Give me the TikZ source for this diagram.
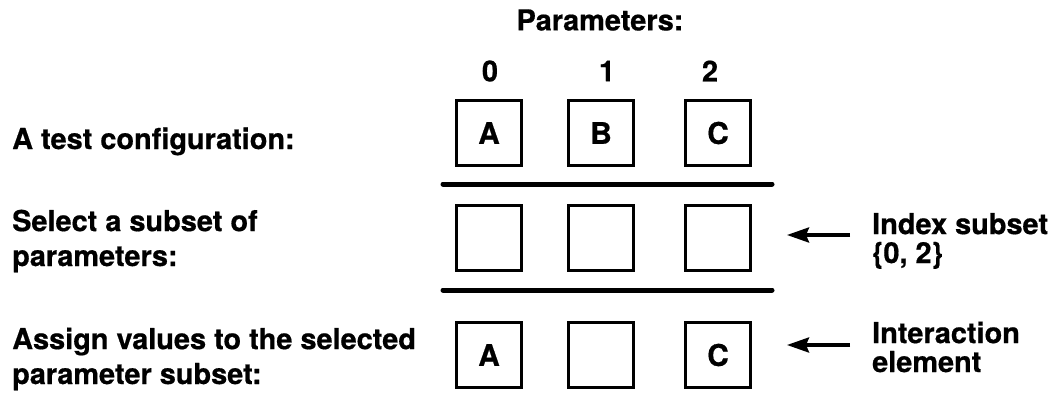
\documentclass[tikz,border=0pt]{standalone}
\usepackage{fontspec}
\setmainfont{TeX Gyre Heros}[BoldFeatures={FakeBold=0.6}]
\usetikzlibrary{arrows.meta}
\begin{document}
\begin{tikzpicture}[x=1bp,y=-1bp,
  every node/.style={font=\fontsize{29}{35}\selectfont\bfseries, inner sep=0pt},
  cell/.style={draw, line width=3.5bp, minimum width=65bp, minimum height=65bp,
    font=\fontsize{30}{35}\selectfont\bfseries},
  rule/.style={line width=5bp, line cap=round},
  pointer/.style={line width=3.5bp, -{Stealth[length=22bp,width=15bp,inset=3bp]}},
  lefttext/.style={anchor=base west, align=left},
  righttext/.style={anchor=base west, align=left, font=\fontsize{29}{29}\selectfont\bfseries}]
  \useasboundingbox (0,0) rectangle (1052,397);

  % column header
  \node (title) at (600,20) {Parameters:};
  \node (n0) at (490,71) {0};
  \node (n1) at (607,71) {1};
  \node (n2) at (710,71) {2};

  % row 1: full test configuration
  \node[cell] (a1) at (489,133) {A};
  \node[cell] (b1) at (601,133) {B};
  \node[cell] (c1) at (718,133) {C};

  % row 2: selected index subset
  \node[cell] (a2) at (489,238) {};
  \node[cell] (b2) at (601,238) {};
  \node[cell] (c2) at (718,238) {};

  % row 3: interaction element
  \node[cell] (a3) at (489,355) {A};
  \node[cell] (b3) at (601,355) {};
  \node[cell] (c3) at (718,355) {C};

  % separators
  \coordinate (r1l) at (443,184);
  \coordinate (r1r) at (772,184);
  \coordinate (r2l) at (443,290);
  \coordinate (r2r) at (772,290);
  \draw[rule] (r1l) -- (r1r);
  \draw[rule] (r2l) -- (r2r);

  % row descriptions (anchored at the baseline of the last line)
  \node[lefttext] (t1) at (12,149) {A test configuration:};
  \node[lefttext] (t2) at (12,266) {Select a subset of\\parameters:};
  \node[lefttext] (t3) at (12,384) {Assign values to the selected\\parameter subset:};

  % annotations on the right
  \node[righttext] (idx) at (872,263) {Index subset\\\{0, 2\}};
  \node[righttext] (ie) at (872,372) {Interaction\\element};
  \coordinate (p1s) at (850,235);
  \coordinate (p1e) at (787,235);
  \coordinate (p2s) at (850,345);
  \coordinate (p2e) at (787,345);
  \draw[pointer] (p1s) -- (p1e);
  \draw[pointer] (p2s) -- (p2e);
\end{tikzpicture}
\end{document}
